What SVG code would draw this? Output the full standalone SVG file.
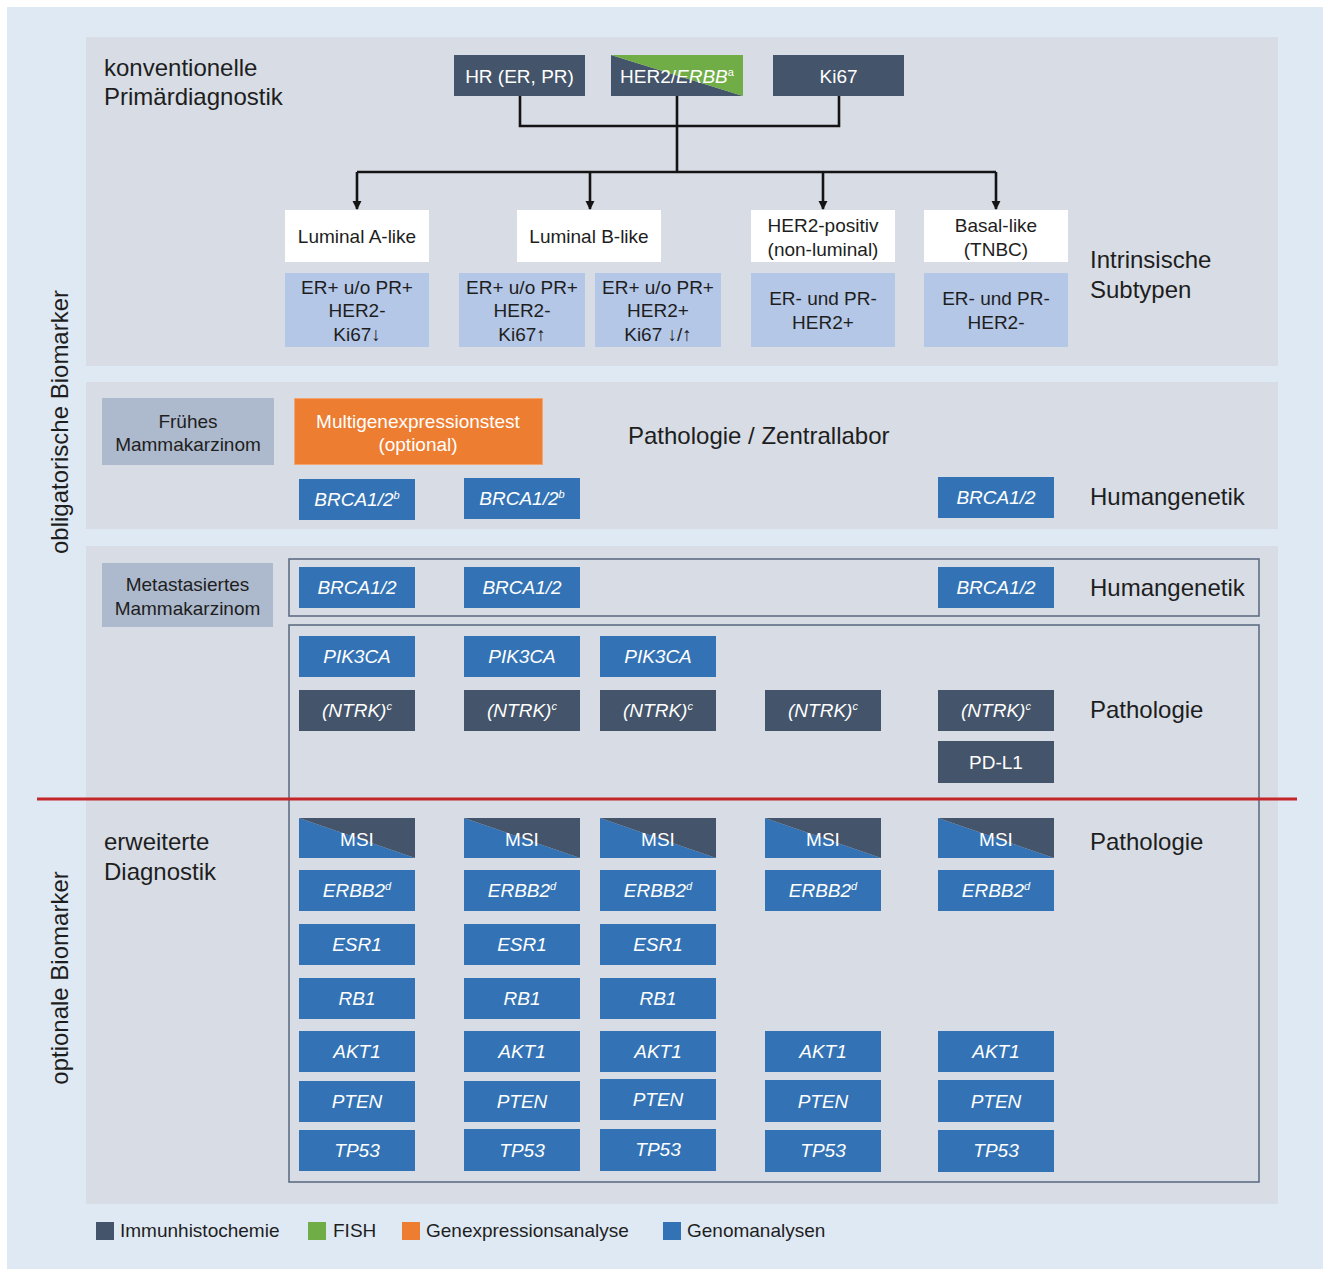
<svg xmlns="http://www.w3.org/2000/svg" width="1323" height="1269" viewBox="0 0 1323 1269">
<defs>
<style>
text{font-family:"Liberation Sans",Arial,sans-serif;}
.h{font-size:24px;fill:#1e1e1e;}
.t{font-size:19px;fill:#1e1e1e;text-anchor:middle;}
.w{font-size:19px;fill:#ffffff;text-anchor:middle;}
.i{font-style:italic;}
.sup{font-size:11px;}
.panel{fill:#d7dce5;}
.dk{fill:#44546a;}
.bl{fill:#3373b5;}
.lb{fill:#b4c7e7;}
.wh{fill:#ffffff;}
.gr{fill:#adb9cc;}
.frame{fill:none;stroke:#5f6e85;stroke-width:1.6;}
.con{fill:none;stroke:#141414;stroke-width:2.6;}
.leg{font-size:19px;fill:#1e1e1e;}
</style>
<marker id="ah" viewBox="0 0 10 10" refX="9" refY="5" markerWidth="3.6" markerHeight="3.6" orient="auto" markerUnits="strokeWidth">
<path d="M0,0 L10,5 L0,10 z" fill="#141414"/>
</marker>
</defs>

<rect x="0" y="0" width="1323" height="1269" fill="#ffffff"/>
<rect x="7" y="7" width="1316" height="1262" fill="#dfe9f4"/>

<!-- panels -->
<rect class="panel" x="86" y="37" width="1192" height="329"/>
<rect class="panel" x="86" y="382" width="1192" height="147"/>
<rect class="panel" x="86" y="546" width="1192" height="658"/>
<rect class="frame" x="289" y="559" width="970" height="57"/>
<rect class="frame" x="289" y="625" width="970" height="557"/>

<!-- side labels -->
<text class="h" transform="translate(68,422) rotate(-90)" text-anchor="middle">obligatorische Biomarker</text>
<text class="h" transform="translate(68,978) rotate(-90)" text-anchor="middle">optionale Biomarker</text>
<text class="h" x="104" y="76">konventionelle</text>
<text class="h" x="104" y="105">Primärdiagnostik</text>
<text class="h" x="1090" y="268">Intrinsische</text>
<text class="h" x="1090" y="298">Subtypen</text>
<text class="h" x="628" y="444">Pathologie / Zentrallabor</text>
<text class="h" x="1090" y="505">Humangenetik</text>
<text class="h" x="1090" y="596">Humangenetik</text>
<text class="h" x="1090" y="718">Pathologie</text>
<text class="h" x="1090" y="850">Pathologie</text>
<text class="h" x="104" y="850">erweiterte</text>
<text class="h" x="104" y="880">Diagnostik</text>

<!-- connectors -->
<g id="connectors">
<path class="con" d="M520,96 V126 H839 V96 M677,96 V172"/>
<path class="con" d="M357,172 H996"/>
<path class="con" d="M357,172 V209" marker-end="url(#ah)"/>
<path class="con" d="M590,172 V209" marker-end="url(#ah)"/>
<path class="con" d="M823,172 V209" marker-end="url(#ah)"/>
<path class="con" d="M996,172 V209" marker-end="url(#ah)"/>
</g>

<!-- top markers -->
<g id="hr"><rect class="dk" x="454" y="55" width="131" height="41"/><text class="w" x="519.5" y="82.5">HR (ER, PR)</text></g>
<g id="her2">
<polygon class="dk" points="611,55 611,96 743,96"/>
<polygon fill="#70ad47" points="611,55 743,55 743,96"/>
<text class="w" x="677" y="82.5">HER2/<tspan class="i">ERBB</tspan><tspan class="sup" dy="-7">a</tspan></text>
</g>
<g id="ki67"><rect class="dk" x="773" y="55" width="131" height="41"/><text class="w" x="838.5" y="82.5">Ki67</text></g>

<!-- subtypes -->
<g id="lumA"><rect class="wh" x="285" y="210" width="144" height="52"/><text class="t" x="357" y="243">Luminal A-like</text></g>
<g id="lumB"><rect class="wh" x="517" y="210" width="144" height="52"/><text class="t" x="589" y="243">Luminal B-like</text></g>
<g id="her2pos"><rect class="wh" x="751" y="210" width="144" height="52"/><text class="t" x="823" y="232">HER2-positiv</text><text class="t" x="823" y="256">(non-luminal)</text></g>
<g id="basal"><rect class="wh" x="924" y="210" width="144" height="52"/><text class="t" x="996" y="232">Basal-like</text><text class="t" x="996" y="256">(TNBC)</text></g>

<g id="lumA-def"><rect class="lb" x="285" y="273" width="144" height="74"/><text class="t" x="357" y="294">ER+ u/o PR+</text><text class="t" x="357" y="317">HER2-</text><text class="t" x="357" y="341">Ki67↓</text></g>
<g id="lumB1-def"><rect class="lb" x="459" y="273" width="126" height="74"/><text class="t" x="522" y="294">ER+ u/o PR+</text><text class="t" x="522" y="317">HER2-</text><text class="t" x="522" y="341">Ki67↑</text></g>
<g id="lumB2-def"><rect class="lb" x="595" y="273" width="126" height="74"/><text class="t" x="658" y="294">ER+ u/o PR+</text><text class="t" x="658" y="317">HER2+</text><text class="t" x="658" y="341">Ki67 ↓/↑</text></g>
<g id="her2pos-def"><rect class="lb" x="751" y="273" width="144" height="74"/><text class="t" x="823" y="305">ER- und PR-</text><text class="t" x="823" y="329">HER2+</text></g>
<g id="basal-def"><rect class="lb" x="924" y="273" width="144" height="74"/><text class="t" x="996" y="305">ER- und PR-</text><text class="t" x="996" y="329">HER2-</text></g>

<!-- early -->
<g id="early"><rect class="gr" x="102" y="398" width="172" height="67"/><text class="t" x="188" y="428">Frühes</text><text class="t" x="188" y="451">Mammakarzinom</text></g>
<g id="multigen"><rect x="294.5" y="398.5" width="248" height="66" fill="#ed7d31" stroke="#f4a46e" stroke-width="1"/><text class="w" x="418" y="428">Multigenexpressionstest</text><text class="w" x="418" y="451">(optional)</text></g>
<g id="e-brca1"><rect class="bl" x="299" y="479" width="116" height="41"/><text class="w i" x="357" y="506">BRCA1/2<tspan class="sup" dy="-7">b</tspan></text></g>
<g id="e-brca2"><rect class="bl" x="464" y="478" width="116" height="41"/><text class="w i" x="522" y="505">BRCA1/2<tspan class="sup" dy="-7">b</tspan></text></g>
<g id="e-brca5"><rect class="bl" x="938" y="477" width="116" height="41"/><text class="w i" x="996" y="504">BRCA1/2</text></g>

<!-- metastatic -->
<g id="meta"><rect class="gr" x="102" y="563" width="171" height="64"/><text class="t" x="187.5" y="591">Metastasiertes</text><text class="t" x="187.5" y="615">Mammakarzinom</text></g>
<g id="m-brca1"><rect class="bl" x="299" y="567" width="116" height="41"/><text class="w i" x="357" y="594">BRCA1/2</text></g>
<g id="m-brca2"><rect class="bl" x="464" y="567" width="116" height="41"/><text class="w i" x="522" y="594">BRCA1/2</text></g>
<g id="m-brca5"><rect class="bl" x="938" y="567" width="116" height="41"/><text class="w i" x="996" y="594">BRCA1/2</text></g>

<g id="pik1"><rect class="bl" x="299" y="636" width="116" height="41"/><text class="w i" x="357" y="663">PIK3CA</text></g>
<g id="pik2"><rect class="bl" x="464" y="636" width="116" height="41"/><text class="w i" x="522" y="663">PIK3CA</text></g>
<g id="pik3"><rect class="bl" x="600" y="636" width="116" height="41"/><text class="w i" x="658" y="663">PIK3CA</text></g>

<g id="ntrk1"><rect class="dk" x="299" y="690" width="116" height="41"/><text class="w i" x="357" y="717">(NTRK)<tspan class="sup" dy="-7">c</tspan></text></g>
<g id="ntrk2"><rect class="dk" x="464" y="690" width="116" height="41"/><text class="w i" x="522" y="717">(NTRK)<tspan class="sup" dy="-7">c</tspan></text></g>
<g id="ntrk3"><rect class="dk" x="600" y="690" width="116" height="41"/><text class="w i" x="658" y="717">(NTRK)<tspan class="sup" dy="-7">c</tspan></text></g>
<g id="ntrk4"><rect class="dk" x="765" y="690" width="116" height="41"/><text class="w i" x="823" y="717">(NTRK)<tspan class="sup" dy="-7">c</tspan></text></g>
<g id="ntrk5"><rect class="dk" x="938" y="690" width="116" height="41"/><text class="w i" x="996" y="717">(NTRK)<tspan class="sup" dy="-7">c</tspan></text></g>
<g id="pdl1"><rect class="dk" x="938" y="741" width="116" height="42"/><text class="w" x="996" y="769">PD-L1</text></g>

<!-- red divider -->
<line x1="37" y1="799" x2="1297" y2="799" stroke="#c4262a" stroke-width="3"/>

<!-- optional -->
<g id="msi1"><polygon class="bl" points="299,818 299,858 415,858"/><polygon class="dk" points="299,818 415,818 415,858"/><text class="w" x="357" y="846">MSI</text></g>
<g id="msi2"><polygon class="bl" points="464,818 464,858 580,858"/><polygon class="dk" points="464,818 580,818 580,858"/><text class="w" x="522" y="846">MSI</text></g>
<g id="msi3"><polygon class="bl" points="600,818 600,858 716,858"/><polygon class="dk" points="600,818 716,818 716,858"/><text class="w" x="658" y="846">MSI</text></g>
<g id="msi4"><polygon class="bl" points="765,818 765,858 881,858"/><polygon class="dk" points="765,818 881,818 881,858"/><text class="w" x="823" y="846">MSI</text></g>
<g id="msi5"><polygon class="bl" points="938,818 938,858 1054,858"/><polygon class="dk" points="938,818 1054,818 1054,858"/><text class="w" x="996" y="846">MSI</text></g>

<g id="erbb1"><rect class="bl" x="299" y="870" width="116" height="41"/><text class="w i" x="357" y="897">ERBB2<tspan class="sup" dy="-7">d</tspan></text></g>
<g id="erbb2"><rect class="bl" x="464" y="870" width="116" height="41"/><text class="w i" x="522" y="897">ERBB2<tspan class="sup" dy="-7">d</tspan></text></g>
<g id="erbb3"><rect class="bl" x="600" y="870" width="116" height="41"/><text class="w i" x="658" y="897">ERBB2<tspan class="sup" dy="-7">d</tspan></text></g>
<g id="erbb4"><rect class="bl" x="765" y="870" width="116" height="41"/><text class="w i" x="823" y="897">ERBB2<tspan class="sup" dy="-7">d</tspan></text></g>
<g id="erbb5"><rect class="bl" x="938" y="870" width="116" height="41"/><text class="w i" x="996" y="897">ERBB2<tspan class="sup" dy="-7">d</tspan></text></g>

<g id="esr1"><rect class="bl" x="299" y="924" width="116" height="41"/><text class="w i" x="357" y="951">ESR1</text></g>
<g id="esr2"><rect class="bl" x="464" y="924" width="116" height="41"/><text class="w i" x="522" y="951">ESR1</text></g>
<g id="esr3"><rect class="bl" x="600" y="924" width="116" height="41"/><text class="w i" x="658" y="951">ESR1</text></g>

<g id="rb1"><rect class="bl" x="299" y="978" width="116" height="41"/><text class="w i" x="357" y="1005">RB1</text></g>
<g id="rb2"><rect class="bl" x="464" y="978" width="116" height="41"/><text class="w i" x="522" y="1005">RB1</text></g>
<g id="rb3"><rect class="bl" x="600" y="978" width="116" height="41"/><text class="w i" x="658" y="1005">RB1</text></g>

<g id="akt1"><rect class="bl" x="299" y="1031" width="116" height="41"/><text class="w i" x="357" y="1058">AKT1</text></g>
<g id="akt2"><rect class="bl" x="464" y="1031" width="116" height="41"/><text class="w i" x="522" y="1058">AKT1</text></g>
<g id="akt3"><rect class="bl" x="600" y="1031" width="116" height="41"/><text class="w i" x="658" y="1058">AKT1</text></g>
<g id="akt4"><rect class="bl" x="765" y="1031" width="116" height="41"/><text class="w i" x="823" y="1058">AKT1</text></g>
<g id="akt5"><rect class="bl" x="938" y="1031" width="116" height="41"/><text class="w i" x="996" y="1058">AKT1</text></g>

<g id="pten1"><rect class="bl" x="299" y="1081" width="116" height="41"/><text class="w i" x="357" y="1108">PTEN</text></g>
<g id="pten2"><rect class="bl" x="464" y="1081" width="116" height="41"/><text class="w i" x="522" y="1108">PTEN</text></g>
<g id="pten3"><rect class="bl" x="600" y="1079" width="116" height="41"/><text class="w i" x="658" y="1106">PTEN</text></g>
<g id="pten4"><rect class="bl" x="765" y="1080" width="116" height="42"/><text class="w i" x="823" y="1108">PTEN</text></g>
<g id="pten5"><rect class="bl" x="938" y="1080" width="116" height="42"/><text class="w i" x="996" y="1108">PTEN</text></g>

<g id="tp1"><rect class="bl" x="299" y="1130" width="116" height="41"/><text class="w i" x="357" y="1157">TP53</text></g>
<g id="tp2"><rect class="bl" x="464" y="1129" width="116" height="42"/><text class="w i" x="522" y="1157">TP53</text></g>
<g id="tp3"><rect class="bl" x="600" y="1129" width="116" height="42"/><text class="w i" x="658" y="1156">TP53</text></g>
<g id="tp4"><rect class="bl" x="765" y="1130" width="116" height="42"/><text class="w i" x="823" y="1157">TP53</text></g>
<g id="tp5"><rect class="bl" x="938" y="1130" width="116" height="42"/><text class="w i" x="996" y="1157">TP53</text></g>

<!-- legend -->
<g id="legend">
<rect class="dk" x="96" y="1222" width="18" height="18"/><text class="leg" x="120" y="1237">Immunhistochemie</text>
<rect fill="#70ad47" x="308" y="1222" width="18" height="18"/><text class="leg" x="333" y="1237">FISH</text>
<rect fill="#ed7d31" x="402" y="1222" width="18" height="18"/><text class="leg" x="426" y="1237">Genexpressionsanalyse</text>
<rect class="bl" x="663" y="1222" width="18" height="18"/><text class="leg" x="687" y="1237">Genomanalysen</text>
</g>
</svg>
